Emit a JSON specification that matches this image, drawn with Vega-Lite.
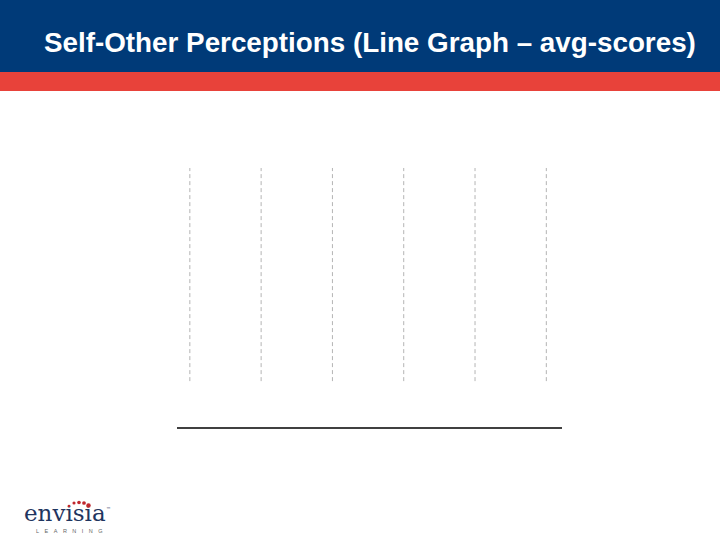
{
  "$schema": "https://vega.github.io/schema/vega-lite/v6.json",
  "width": 720,
  "height": 540,
  "autosize": {"type": "none"},
  "padding": 0,
  "background": "white",
  "config": {"view": {"stroke": null}},
  "resolve": {"scale": {"x": "independent", "y": "independent"}},
  "layer": [
    {
      "data": {"values": [{}]},
      "layer": [
        {
          "mark": {"type": "rect", "color": "#003a78"},
          "encoding": {
            "x": {"datum": 0, "type": "quantitative", "scale": {"domain": [0, 720], "nice": false, "zero": false}, "axis": null},
            "x2": {"datum": 720},
            "y": {"datum": 0, "type": "quantitative", "scale": {"domain": [0, 540], "nice": false, "zero": false, "reverse": true}, "axis": null},
            "y2": {"datum": 72}
          }
        },
        {
          "mark": {"type": "rect", "color": "#e8423a"},
          "encoding": {
            "x": {"datum": 0, "type": "quantitative"},
            "x2": {"datum": 720},
            "y": {"datum": 72, "type": "quantitative"},
            "y2": {"datum": 91}
          }
        },
        {
          "mark": {"type": "text", "text": "Self-Other Perceptions (Line Graph – avg-scores)", "font": "Liberation Sans", "fontWeight": "bold", "fontSize": 27.8, "color": "white", "align": "left", "baseline": "alphabetic"},
          "encoding": {
            "x": {"datum": 44, "type": "quantitative"},
            "y": {"datum": 52, "type": "quantitative"}
          }
        },
        {
          "mark": {"type": "text", "text": "envisia", "font": "DejaVu Serif", "fontSize": 23, "color": "#1f3560", "align": "left", "baseline": "alphabetic"},
          "encoding": {
            "x": {"datum": 24, "type": "quantitative"},
            "y": {"datum": 521, "type": "quantitative"}
          }
        },
        {
          "mark": {"type": "text", "text": "™", "font": "DejaVu Sans", "fontSize": 5, "color": "#1f3560", "align": "left", "baseline": "alphabetic"},
          "encoding": {
            "x": {"datum": 106, "type": "quantitative"},
            "y": {"datum": 511, "type": "quantitative"}
          }
        },
        {
          "mark": {"type": "text", "text": "L\u2002\u2002E\u2002\u2002A\u2002\u2002R\u2002\u2002N\u2002\u2002I\u2002\u2002N\u2002\u2002G", "font": "Liberation Sans", "fontSize": 5.5, "color": "#666666", "align": "left", "baseline": "alphabetic"},
          "encoding": {
            "x": {"datum": 36, "type": "quantitative"},
            "y": {"datum": 533, "type": "quantitative"}
          }
        },
        {
          "mark": {"type": "point", "filled": true, "color": "#c0272d", "size": 7, "opacity": 1},
          "encoding": {"x": {"datum": 69, "type": "quantitative"}, "y": {"datum": 506, "type": "quantitative"}}
        },
        {
          "mark": {"type": "point", "filled": true, "color": "#c0272d", "size": 10, "opacity": 1},
          "encoding": {"x": {"datum": 74, "type": "quantitative"}, "y": {"datum": 503, "type": "quantitative"}}
        },
        {
          "mark": {"type": "point", "filled": true, "color": "#c0272d", "size": 13, "opacity": 1},
          "encoding": {"x": {"datum": 79, "type": "quantitative"}, "y": {"datum": 502.5, "type": "quantitative"}}
        },
        {
          "mark": {"type": "point", "filled": true, "color": "#c0272d", "size": 14, "opacity": 1},
          "encoding": {"x": {"datum": 84, "type": "quantitative"}, "y": {"datum": 503, "type": "quantitative"}}
        },
        {
          "mark": {"type": "point", "filled": true, "color": "#c0272d", "size": 20, "opacity": 1},
          "encoding": {"x": {"datum": 88.5, "type": "quantitative"}, "y": {"datum": 505.5, "type": "quantitative"}}
        }
      ]
    },
    {
      "data": {"values": [{"slot": 1}, {"slot": 2}, {"slot": 3}, {"slot": 4}, {"slot": 5}, {"slot": 6}]},
      "layer": [
        {
          "mark": {"type": "rule", "color": "#b4b4b4", "strokeWidth": 1, "strokeDash": [4, 3]},
          "encoding": {
            "x": {"field": "slot", "type": "quantitative", "scale": {"domain": [0.82, 6.22], "range": [177, 562], "nice": false, "zero": false}, "axis": null},
            "y": {"datum": 0, "type": "quantitative", "scale": {"domain": [-0.22, 1], "range": [428, 168], "nice": false, "zero": false}, "axis": null},
            "y2": {"datum": 1}
          }
        },
        {
          "data": {"values": [{}]},
          "mark": {"type": "rule", "color": "black", "strokeWidth": 1.5},
          "encoding": {
            "x": {"datum": 0.82, "type": "quantitative"},
            "x2": {"datum": 6.22},
            "y": {"datum": -0.22, "type": "quantitative"}
          }
        }
      ]
    }
  ]
}
